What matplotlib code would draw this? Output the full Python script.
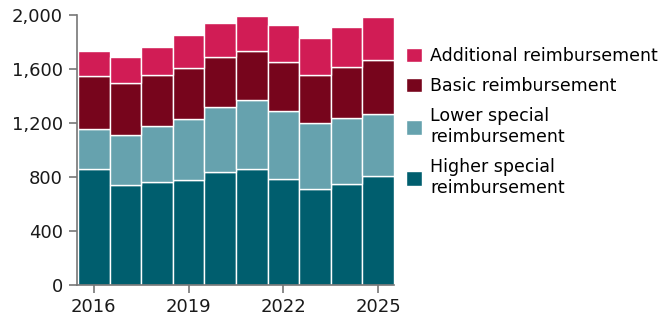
import matplotlib.pyplot as plt
from matplotlib.ticker import FuncFormatter

years = [2016, 2017, 2018, 2019, 2020, 2021, 2022, 2023, 2024, 2025]
higher_special = [857, 739, 759, 781, 835, 862, 788, 709, 751, 810]
lower_special = [301, 372, 421, 450, 485, 507, 498, 488, 483, 456]
basic = [389, 386, 372, 377, 370, 360, 362, 357, 379, 401]
additional = [184, 190, 207, 244, 253, 264, 278, 276, 298, 316]

series = [
    ("Higher special\nreimbursement", higher_special, "#005e6e"),
    ("Lower special\nreimbursement", lower_special, "#66a2ae"),
    ("Basic reimbursement", basic, "#77051c"),
    ("Additional reimbursement", additional, "#d11c55"),
]

plt.rcParams["font.family"] = ["DejaVu Sans"]
plt.rcParams["font.size"] = 12.5

fig = plt.figure(figsize=(6.72, 3.16), dpi=100)
ax = fig.add_axes([0.1146, 0.098, 0.4717, 0.855])

bottom = [0] * len(years)
for label, vals, color in series:
    ax.bar(years, vals, bottom=bottom, width=1.0, color=color,
           edgecolor="white", linewidth=1.0, label=label)
    bottom = [b + v for b, v in zip(bottom, vals)]

ax.set_xlim(2015.47, 2025.5)
ax.set_ylim(0, 2000)
ax.set_yticks([0, 400, 800, 1200, 1600, 2000])
ax.yaxis.set_major_formatter(FuncFormatter(lambda v, p: f"{int(v):,}"))
ax.set_xticks([2016, 2019, 2022, 2025])

for s in ["top", "right"]:
    ax.spines[s].set_visible(False)
for s in ["left", "bottom"]:
    ax.spines[s].set_color("#777777")
    ax.spines[s].set_linewidth(1.2)
ax.tick_params(axis="both", colors="#777777", labelcolor="#1a1a1a",
               length=6, width=1.2, labelsize=13)
ax.tick_params(axis="y", pad=4)
ax.tick_params(axis="x", pad=3)

handles, labels = ax.get_legend_handles_labels()
fig.legend(handles[::-1], labels[::-1], loc="upper left",
           bbox_to_anchor=(0.594, 0.874), frameon=False,
           handlelength=0.9, handleheight=0.9, handletextpad=0.5,
           labelspacing=0.7, fontsize=12.5, borderaxespad=0)

fig.savefig("out.png", dpi=100)
